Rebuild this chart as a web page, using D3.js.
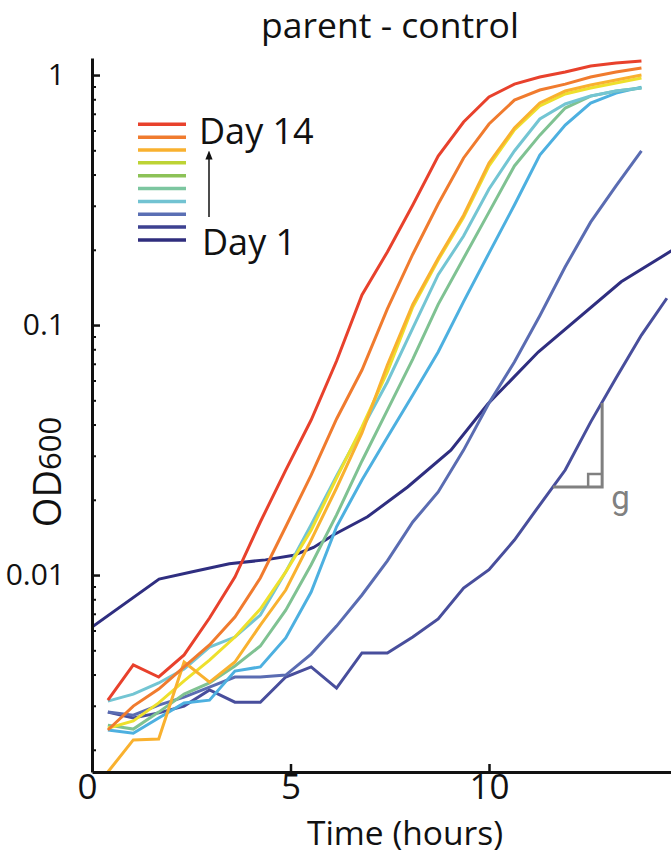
<!DOCTYPE html>
<html>
<head>
<meta charset="utf-8">
<script src="https://cdn.jsdelivr.net/npm/d3@7/dist/d3.min.js"></script>
<style>
  html, body { margin: 0; padding: 0; background: #fff; }
  svg { display: block; }
  text { font-family: "Open Sans", "Noto Sans", sans-serif; fill: #111; }
</style>
</head>
<body>
<svg id="chart" width="671" height="855"></svg>
<script>
// ---------------- data ----------------
const times = [0.4, 1.04, 1.68, 2.32, 2.96, 3.6, 4.24, 4.88, 5.52, 6.16, 6.8, 7.44,
               8.08, 8.72, 9.36, 10.0, 10.64, 11.28, 11.92, 12.56, 13.2, 13.84, 14.48];

const day14 = [0.00316, 0.00437, 0.00391, 0.00479, 0.00673, 0.00982, 0.0163, 0.0263, 0.0417, 0.0718, 0.132, 0.196,
               0.302, 0.474, 0.649, 0.817, 0.920, 0.982, 1.028, 1.086, 1.117, 1.138];
const orangeVals = [0.00240, 0.00299, 0.00350, 0.00429, 0.00525, 0.00679, 0.00973, 0.0156, 0.0251, 0.0421, 0.0661, 0.116,
               0.192, 0.305, 0.466, 0.637, 0.794, 0.871, 0.920, 0.982, 1.028, 1.067];
const goldVals = [0.00163, 0.00219, 0.00221, 0.00449, 0.00373, 0.00449, 0.00631, 0.00871, 0.0138, 0.0223, 0.0370, 0.0692,
               0.121, 0.185, 0.275, 0.445, 0.614, 0.773, 0.863, 0.912, 0.955, 1.0];
const yellowVals = [0.00244, 0.00261, 0.00308, 0.00377, 0.00457, 0.00565, 0.00731, 0.0103, 0.0151, 0.0244, 0.0391, 0.0649,
               0.118, 0.182, 0.270, 0.433, 0.603, 0.752, 0.840, 0.887, 0.929, 0.973];
const tealVals = [0.00313, 0.00334, 0.00370, 0.00421, 0.00515, 0.00565, 0.00692, 0.0103, 0.0159, 0.0249, 0.0384, 0.0592,
               0.0973, 0.159, 0.227, 0.350, 0.497, 0.667, 0.766, 0.824, 0.863, 0.887];
const greenVals = [0.00251, 0.00242, 0.00283, 0.00334, 0.00370, 0.00433, 0.00520, 0.00724, 0.0110, 0.0174, 0.0286, 0.0457,
               0.0731, 0.121, 0.185, 0.283, 0.433, 0.575, 0.738, 0.824, 0.863, 0.887];
const skyVals = [0.00240, 0.00233, 0.00268, 0.00308, 0.00316, 0.00413, 0.00429, 0.00560, 0.00855, 0.0156, 0.0240, 0.0356,
               0.0525, 0.0780, 0.124, 0.194, 0.302, 0.479, 0.631, 0.773, 0.847, 0.895];
const slateVals = [0.00283, 0.00275, 0.00302, 0.00325, 0.00356, 0.00391, 0.00391, 0.00398, 0.00483, 0.00625, 0.00832, 0.0114,
               0.0163, 0.0215, 0.0316, 0.0488, 0.0711, 0.109, 0.171, 0.258, 0.360, 0.497];
const darkSlateVals = [0.00283, 0.00268, 0.00281, 0.00299, 0.00347, 0.00310, 0.00310, 0.00391, 0.00429, 0.00353, 0.00488, 0.00488,
               0.00565, 0.00667, 0.00887, 0.0105, 0.0138, 0.0191, 0.0263, 0.0409, 0.0614, 0.0912, 0.128];
const day1Times = [0, 1.69, 2.53, 3.46, 4.37, 5.08, 5.58, 6.09, 6.94, 7.95, 9.04, 9.97, 11.24, 13.33, 15.0];
const day1 = [0.00619, 0.00964, 0.0103, 0.0111, 0.0115, 0.0120, 0.0129, 0.0145, 0.0171, 0.0225, 0.0316, 0.0483, 0.0780, 0.149, 0.217];

const xTicks = [0, 5, 10];
const yMajorTicks = [0.01, 0.1, 1];
const yTickLabels = ["0.01", "0.1", "1"];
const legendColors = ["#e8412c", "#f07b2e", "#f9b12f", "#bdd334", "#8cc257", "#7cc6a0", "#72c3d2", "#5a6fb4", "#3d4191", "#2f2d7d"];

// draw order: back to front
const series = [
  { times: day1Times, values: day1,          color: "#2f2e80" },
  { times: times,     values: darkSlateVals, color: "#484e9c" },
  { times: times,     values: slateVals,     color: "#5a6cb2" },
  { times: times,     values: skyVals,       color: "#4db0e0" },
  { times: times,     values: greenVals,     color: "#7fc292" },
  { times: times,     values: tealVals,      color: "#73c5d3" },
  { times: times,     values: yellowVals,    color: "#eee02c" },
  { times: times,     values: goldVals,      color: "#f9b12f" },
  { times: times,     values: orangeVals,    color: "#f07b2e" },
  { times: times,     values: day14,         color: "#e8412c" }
];

// ---------------- layout ----------------
const svg = d3.select("#chart");
const plotLeft = 92, plotBottom = 772, plotTop = 58;
const x = d3.scaleLinear().domain([0, 14.8]).range([plotLeft, plotLeft + 14.8 * 39.7]);
const y = d3.scaleLog().domain([0.00163, 1.17]).range([plotBottom, plotTop]);

const defs = svg.append("defs");
defs.append("clipPath").attr("id", "plotclip").append("rect")
  .attr("x", plotLeft).attr("y", plotTop - 10).attr("width", 700).attr("height", plotBottom - plotTop + 10);

// lines
const line = d3.line()
  .defined(d => d.v != null)
  .x(d => x(d.t)).y(d => y(d.v));

const gLines = svg.append("g").attr("clip-path", "url(#plotclip)");
series.forEach(s => {
  const pts = s.values.map((v, i) => ({ t: s.times[i], v: v }));
  gLines.append("path")
    .attr("d", line(pts))
    .attr("fill", "none")
    .attr("stroke", s.color)
    .attr("stroke-width", 3)
    .attr("stroke-linejoin", "miter");
});

// y axis: minor ticks
const minor = [];
[0.001, 0.01, 0.1].forEach(dec => {
  for (let k = 2; k <= 9; k++) {
    const v = +(dec * k).toPrecision(3);
    if (v >= 0.00163 && v <= 1.17) minor.push(v);
  }
});
svg.append("g").attr("transform", `translate(${plotLeft},0)`)
  .call(d3.axisLeft(y).tickValues(minor).tickSizeInner(-4).tickSizeOuter(0).tickFormat(""))
  .call(g => g.select(".domain").remove())
  .call(g => g.selectAll("line").attr("stroke", "#111").attr("stroke-width", 2));

const yAxis = svg.append("g").attr("transform", `translate(${plotLeft},0)`)
  .call(d3.axisLeft(y).tickValues(yMajorTicks).tickSizeInner(-8).tickSizeOuter(0)
    .tickFormat((d, i) => yTickLabels[i]).tickPadding(27));
yAxis.select(".domain").attr("stroke", "#111").attr("stroke-width", 3);
yAxis.selectAll("line").attr("stroke", "#111").attr("stroke-width", 2.5);
yAxis.selectAll("text").attr("font-size", 30).attr("fill", "#111")
  .style("font-family", "'Open Sans', sans-serif");

// x axis
const xAxis = svg.append("g").attr("transform", `translate(0,${plotBottom})`)
  .call(d3.axisBottom(x).tickValues(xTicks).tickSizeInner(-8).tickSizeOuter(0)
    .tickFormat(d3.format("d")).tickPadding(2));
xAxis.select(".domain").attr("stroke", "#111").attr("stroke-width", 3);
xAxis.selectAll("line").attr("stroke", "#111").attr("stroke-width", 2.5);
xAxis.selectAll("text").attr("font-size", 35).attr("fill", "#111")
  .style("font-family", "'Open Sans', sans-serif")
  .attr("dx", d => d === 0 ? -5 : 0);

// titles
svg.append("text").attr("x", 390).attr("y", 38).attr("text-anchor", "middle")
  .attr("font-size", 35.5).text("parent - control");
svg.append("text").attr("x", 405).attr("y", 845).attr("text-anchor", "middle")
  .attr("font-size", 33.5).text("Time (hours)");
const yl = svg.append("text").attr("transform", "translate(61,472) rotate(-90)")
  .attr("text-anchor", "middle").attr("font-size", 38);
yl.append("tspan").text("OD");
yl.append("tspan").attr("font-size", 31).text("600");

// legend
const lg = svg.append("g");
legendColors.forEach((c, i) => {
  lg.append("line").attr("x1", 138).attr("x2", 186)
    .attr("y1", 124.3 + i * 12.85).attr("y2", 124.3 + i * 12.85)
    .attr("stroke", c).attr("stroke-width", 3.5);
});
lg.append("text").attr("x", 199).attr("y", 144).attr("font-size", 36).text("Day 14");
lg.append("text").attr("x", 202).attr("y", 255).attr("font-size", 36).text("Day 1");
defs.append("marker").attr("id", "arr").attr("viewBox", "0 0 10 10")
  .attr("refX", 5).attr("refY", 5).attr("markerWidth", 6).attr("markerHeight", 6)
  .attr("orient", "auto")
  .append("path").attr("d", "M0,1 L10,5 L0,9 Z").attr("fill", "#111");
lg.append("line").attr("x1", 209).attr("x2", 209).attr("y1", 217).attr("y2", 155)
  .attr("stroke", "#111").attr("stroke-width", 1.5).attr("marker-end", "url(#arr)");

// growth-rate annotation
const gx0 = 11.61, gx1 = 12.85, gy0 = 0.0225, gy1 = 0.0488;
const ga = svg.append("g").attr("stroke", "#808080").attr("stroke-width", 3).attr("fill", "none");
ga.append("path").attr("d", `M${x(gx0)},${y(gy0)} H${x(gx1)} V${y(gy1)}`);
ga.append("path").attr("d", `M${x(gx1) - 14},${y(gy0)} V${y(gy0) - 13} H${x(gx1)}`).attr("stroke-width", 2.5);
svg.append("text").attr("x", x(gx1) + 9).attr("y", y(gy0) + 22).attr("font-size", 33)
  .style("fill", "#808080").style("font-family", "Roboto, Inter, sans-serif").text("g");
</script>
</body>
</html>
